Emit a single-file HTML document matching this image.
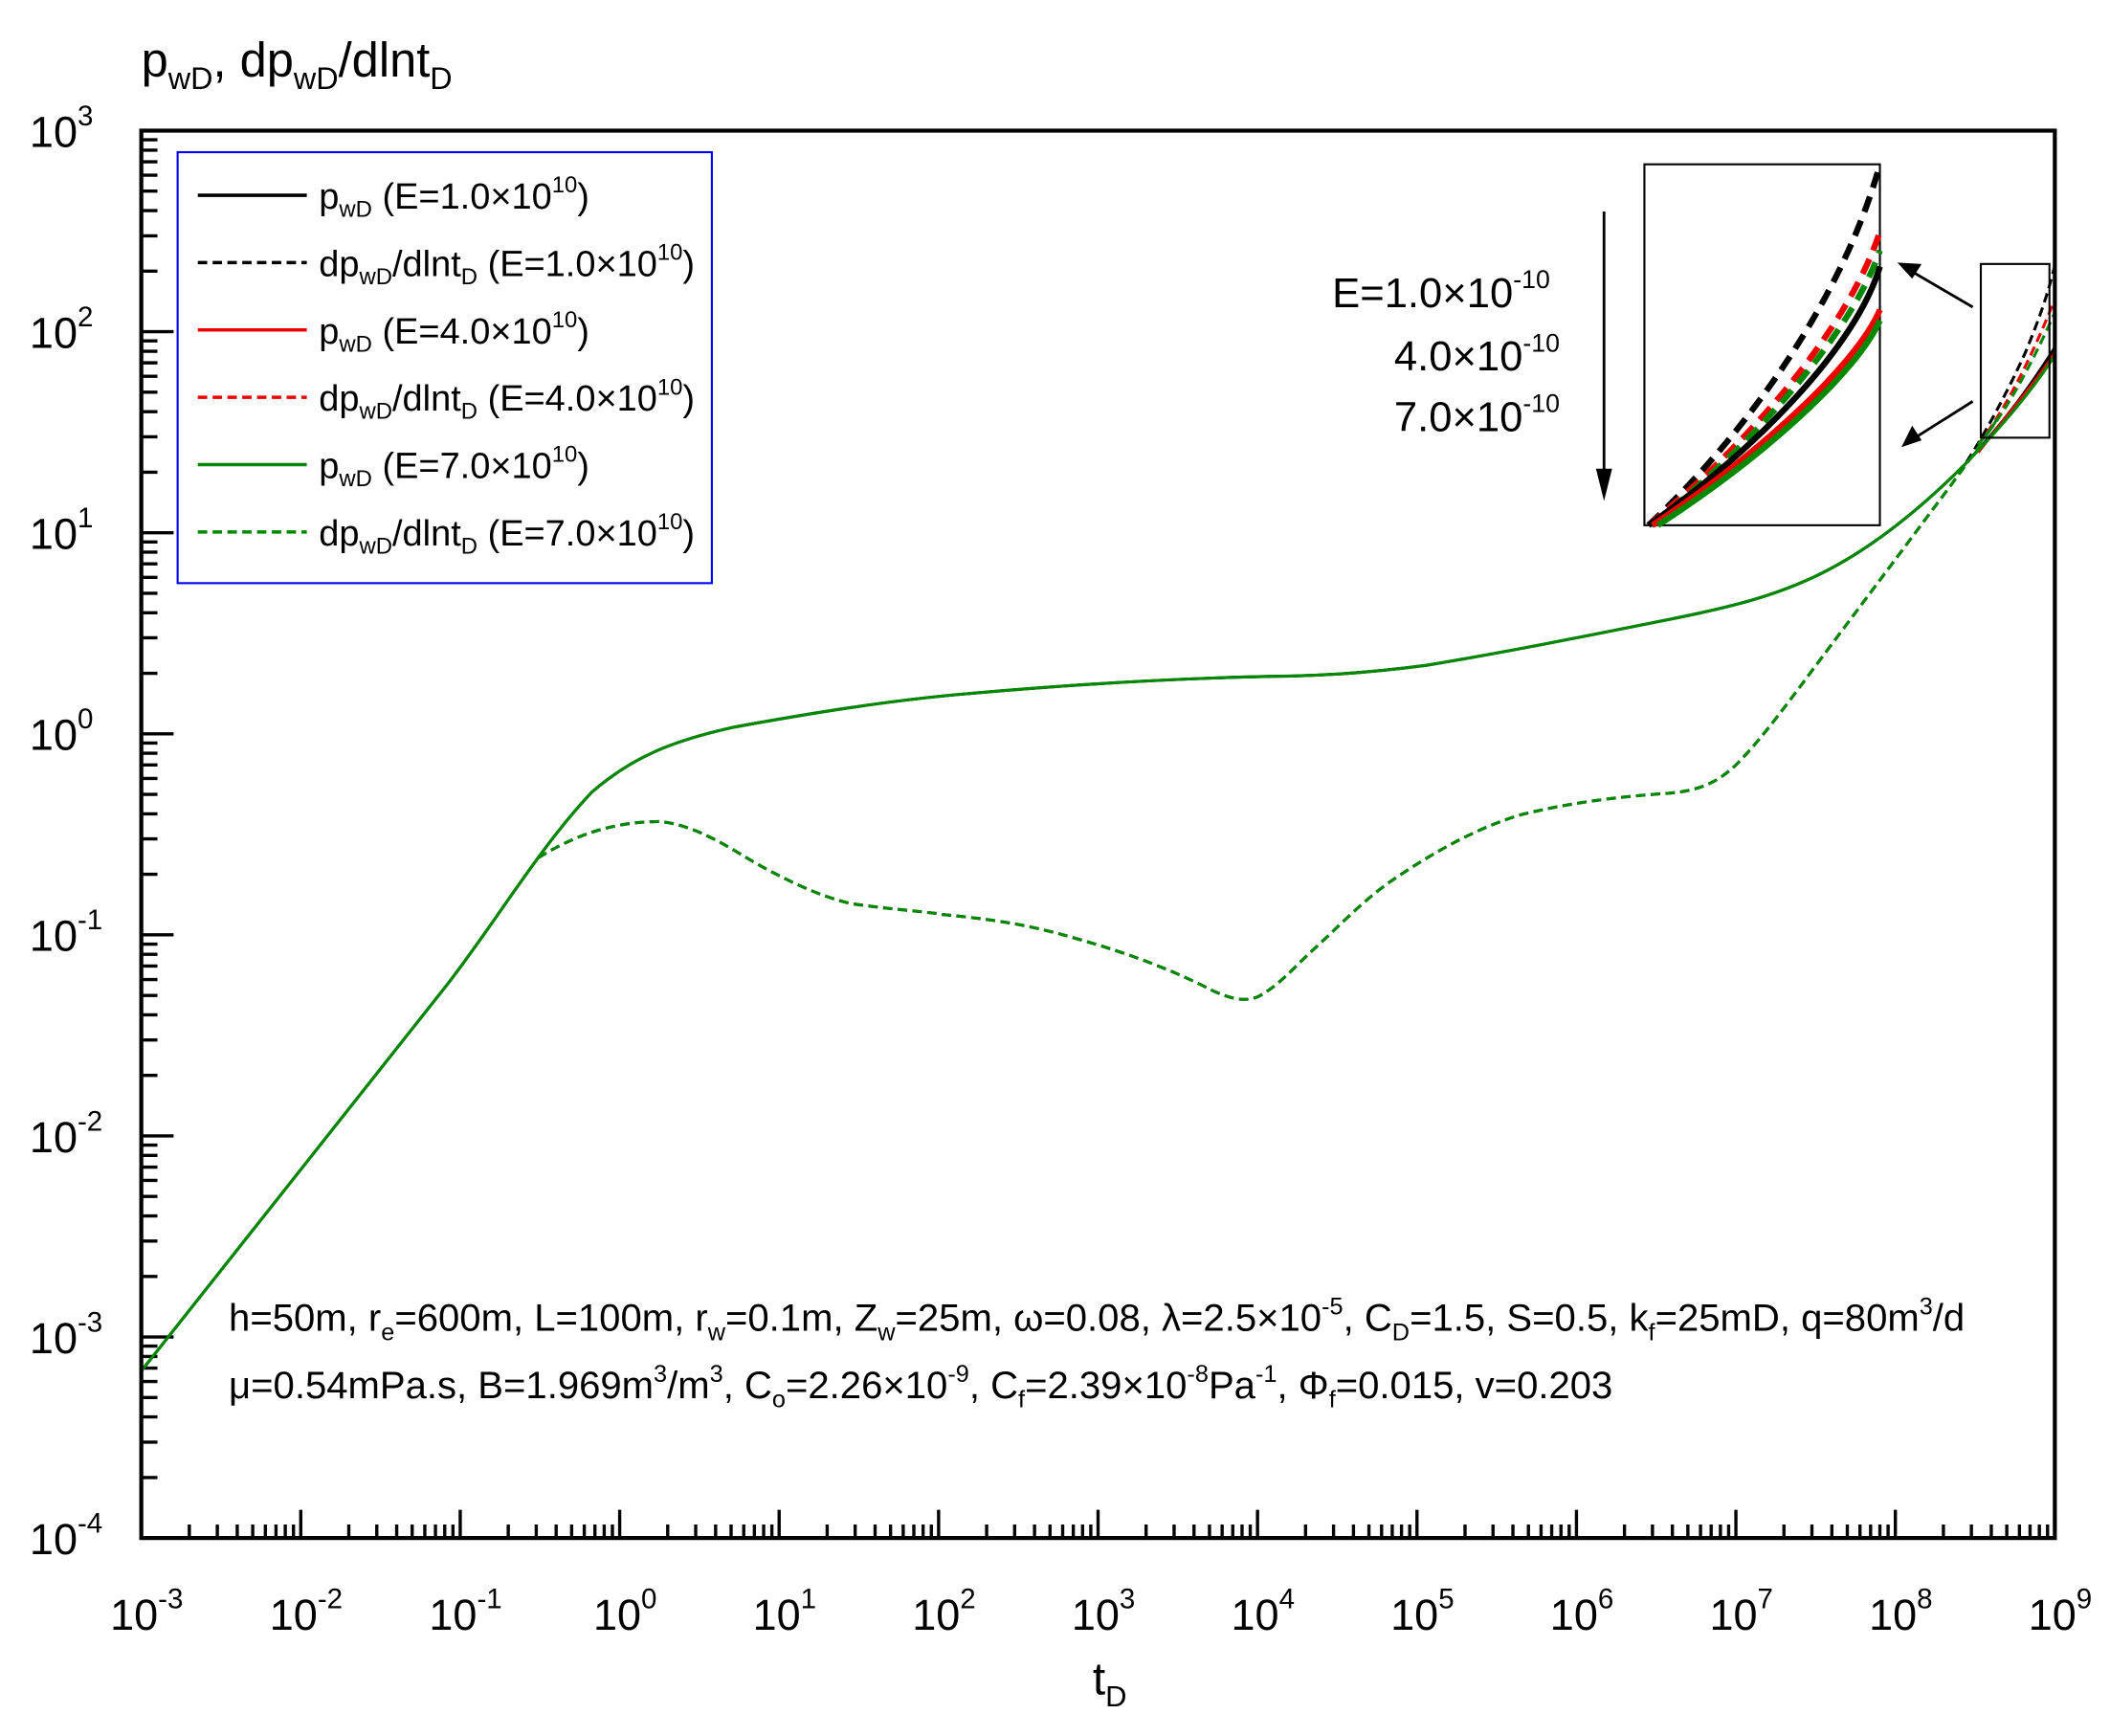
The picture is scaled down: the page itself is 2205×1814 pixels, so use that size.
<!DOCTYPE html>
<html><head><meta charset="utf-8"><style>
html,body{margin:0;padding:0;background:#fff}
svg{display:block}
text{font-family:"Liberation Sans",Arial,sans-serif;fill:#000}
</style></head><body>
<svg id="s" width="2205" height="1814" viewBox="0 0 1568 1289" preserveAspectRatio="none" xmlns="http://www.w3.org/2000/svg">
<rect width="1568" height="1289" fill="#fff"/>
<text x="105" y="57" font-size="36">p<tspan font-size="23" dy="9">wD</tspan><tspan dy="-9">, dp</tspan><tspan font-size="23" dy="9">wD</tspan><tspan dy="-9">/dlnt</tspan><tspan font-size="23" dy="9">D</tspan></text>
<g id="ticks" stroke="#000" stroke-width="2.4" fill="none"></g>
<g id="ylab" font-size="32"></g>
<g id="xlab" font-size="32" text-anchor="middle"></g>
<text x="812" y="1258" font-size="34">t<tspan font-size="22" dy="9">D</tspan></text>
<g fill="none" stroke-width="2.2">
<path d="M105,1018 L330,734 C365,690 400,630 440,588 C470,562 500,550 545,540 C600,530 660,520 720,515 C800,508 880,503 960,502 C1000,501 1030,498 1060,494 C1120,484 1180,472 1240,460 C1280,452 1310,445 1340,432 C1380,415 1420,385 1460,345 C1490,313 1510,285 1527,258" stroke="#000"/>
<path d="M400,637 C430,618 460,610 490,610 C515,612 540,628 560,640 C590,657 620,670 640,672 C670,676 690,677 700,679 C730,682 760,685 800,697 C840,708 875,722 900,735 C915,742 925,744 935,740 C950,732 960,720 975,706 C995,688 1015,666 1040,650 C1070,630 1100,614 1130,605 C1170,595 1210,591 1240,589 C1262,587 1275,582 1290,568 C1310,548 1330,520 1360,480 C1390,440 1420,400 1450,360 C1470,332 1490,295 1505,262 C1515,238 1522,218 1527,197" stroke="#000" stroke-dasharray="7,4"/>
<path d="M1470,330 C1490,305 1510,265 1527,222" stroke="#e00" stroke-dasharray="7,4"/>
<path d="M1470,330 C1490,308 1510,270 1527,232" stroke="#080" stroke-dasharray="7,4"/>
<path d="M1470,336 C1490,310 1512,285 1527,262" stroke="#e00"/>
<path d="M105,1018 L330,734 C365,690 400,630 440,588 C470,562 500,550 545,540 C600,530 660,520 720,515 C800,508 880,503 960,502 C1000,501 1030,498 1060,494 C1120,484 1180,472 1240,460 C1280,452 1310,445 1340,432 C1380,415 1420,385 1460,345 C1490,314 1510,290 1527,264" stroke="#080"/>
<path d="M400,637 C430,618 460,610 490,610 C515,612 540,628 560,640 C590,657 620,670 640,672 C670,676 690,677 700,679 C730,682 760,685 800,697 C840,708 875,722 900,735 C915,742 925,744 935,740 C950,732 960,720 975,706 C995,688 1015,666 1040,650 C1070,630 1100,614 1130,605 C1170,595 1210,591 1240,589 C1262,587 1275,582 1290,568 C1310,548 1330,520 1360,480 C1390,440 1420,400 1450,360 C1465,340 1475,325 1485,310" stroke="#080" stroke-dasharray="7,4"/>
</g>
<rect x="105" y="97" width="1422" height="1045" fill="none" stroke="#000" stroke-width="3"/>
<rect x="132" y="113" width="397" height="320" fill="#fff" stroke="#00f" stroke-width="1.5"/>
<g stroke-width="2.5">
<line x1="147" y1="145" x2="228" y2="145" stroke="#000"/>
<line x1="147" y1="195" x2="228" y2="195" stroke="#000" stroke-dasharray="7,4"/>
<line x1="147" y1="245" x2="228" y2="245" stroke="#e00"/>
<line x1="147" y1="295" x2="228" y2="295" stroke="#e00" stroke-dasharray="7,4"/>
<line x1="147" y1="345" x2="228" y2="345" stroke="#080"/>
<line x1="147" y1="395" x2="228" y2="395" stroke="#080" stroke-dasharray="7,4"/>
</g>
<g font-size="27">
<text x="237" y="155">p<tspan font-size="17" dy="6">wD</tspan><tspan dy="-6"> (E=1.0×10</tspan><tspan font-size="17" dy="-12">10</tspan><tspan dy="12">)</tspan></text>
<text x="237" y="205">dp<tspan font-size="17" dy="6">wD</tspan><tspan dy="-6">/dlnt</tspan><tspan font-size="17" dy="6">D</tspan><tspan dy="-6"> (E=1.0×10</tspan><tspan font-size="17" dy="-12">10</tspan><tspan dy="12">)</tspan></text>
<text x="237" y="255">p<tspan font-size="17" dy="6">wD</tspan><tspan dy="-6"> (E=4.0×10</tspan><tspan font-size="17" dy="-12">10</tspan><tspan dy="12">)</tspan></text>
<text x="237" y="305">dp<tspan font-size="17" dy="6">wD</tspan><tspan dy="-6">/dlnt</tspan><tspan font-size="17" dy="6">D</tspan><tspan dy="-6"> (E=4.0×10</tspan><tspan font-size="17" dy="-12">10</tspan><tspan dy="12">)</tspan></text>
<text x="237" y="355">p<tspan font-size="17" dy="6">wD</tspan><tspan dy="-6"> (E=7.0×10</tspan><tspan font-size="17" dy="-12">10</tspan><tspan dy="12">)</tspan></text>
<text x="237" y="405">dp<tspan font-size="17" dy="6">wD</tspan><tspan dy="-6">/dlnt</tspan><tspan font-size="17" dy="6">D</tspan><tspan dy="-6"> (E=7.0×10</tspan><tspan font-size="17" dy="-12">10</tspan><tspan dy="12">)</tspan></text>
</g>
<rect x="1222" y="122" width="175" height="268" fill="#fff" stroke="#000" stroke-width="1.5"/>
<g fill="none" stroke-width="4.5">
<path d="M1225,390 C1300,320 1370,220 1397,122" stroke="#000" stroke-dasharray="12,7"/>
<path d="M1225,390 C1305,325 1375,240 1397,172" stroke="#e00" stroke-dasharray="12,7"/>
<path d="M1227,390 C1307,327 1377,245 1397,186" stroke="#080" stroke-dasharray="12,7"/>
<path d="M1225,390 C1310,330 1380,255 1397,198" stroke="#000"/>
<path d="M1228,390 C1310,335 1380,270 1397,230" stroke="#e00"/>
<path d="M1232,390 C1312,338 1380,276 1397,238" stroke="#080"/>
</g>
<rect x="1472" y="196" width="51" height="129" fill="none" stroke="#000" stroke-width="1.5"/>
<g stroke="#000" stroke-width="2">
<line x1="1466" y1="228" x2="1418" y2="200"/>
<line x1="1466" y1="298" x2="1420" y2="327"/>
<line x1="1192" y1="157" x2="1192" y2="360"/>
</g>
<polygon points="1410,195 1428,196 1421,207" fill="#000"/>
<polygon points="1413,332 1421,316 1428,327" fill="#000"/>
<polygon points="1192,372 1186,348 1198,348" fill="#000"/>
<g font-size="31">
<text x="990" y="228">E=1.0×10<tspan font-size="19" dy="-14">-10</tspan></text>
<text x="1036" y="275">4.0×10<tspan font-size="19" dy="-14">-10</tspan></text>
<text x="1036" y="320">7.0×10<tspan font-size="19" dy="-14">-10</tspan></text>
</g>
<g font-size="28.5">
<text x="170" y="988">h=50m, r<tspan font-size="18" dy="7">e</tspan><tspan dy="-7">=600m, L=100m, r</tspan><tspan font-size="18" dy="7">w</tspan><tspan dy="-7">=0.1m, Z</tspan><tspan font-size="18" dy="7">w</tspan><tspan dy="-7">=25m, ω=0.08, λ=2.5×10</tspan><tspan font-size="18" dy="-12">-5</tspan><tspan dy="12">, C</tspan><tspan font-size="18" dy="7">D</tspan><tspan dy="-7">=1.5, S=0.5, k</tspan><tspan font-size="18" dy="7">f</tspan><tspan dy="-7">=25mD, q=80m</tspan><tspan font-size="18" dy="-12">3</tspan><tspan dy="12">/d</tspan></text>
<text x="170" y="1038">μ=0.54mPa.s, B=1.969m<tspan font-size="18" dy="-12">3</tspan><tspan dy="12">/m</tspan><tspan font-size="18" dy="-12">3</tspan><tspan dy="12">, C</tspan><tspan font-size="18" dy="7">o</tspan><tspan dy="-7">=2.26×10</tspan><tspan font-size="18" dy="-12">-9</tspan><tspan dy="12">, C</tspan><tspan font-size="18" dy="7">f</tspan><tspan dy="-7">=2.39×10</tspan><tspan font-size="18" dy="-12">-8</tspan><tspan dy="12">Pa</tspan><tspan font-size="18" dy="-12">-1</tspan><tspan dy="12">, Φ</tspan><tspan font-size="18" dy="7">f</tspan><tspan dy="-7">=0.015, v=0.203</tspan></text>
</g>
</svg>
<script>
(function(){
var NS="http://www.w3.org/2000/svg";
var g=document.getElementById('ticks');var d="";
var L=105,R=1527,T=97,B=1142;
var dx=(R-L)/12, dy=(B-T)/7;
for(var i=0;i<12;i++){for(var k=1;k<=10;k++){var x=L+(i+Math.log10(k))*dx;var h=(k==1||k==10)?21:10;if(k==1&&i==0)continue;d+="M"+x.toFixed(1)+","+B+"v-"+h;}}
for(var j=0;j<7;j++){for(var k=1;k<=10;k++){var y=B-(j+Math.log10(k))*dy;var w=(k==1||k==10)?24:12;if(k==1&&j==0)continue;if(k==10&&j==6)continue;d+="M"+L+","+y.toFixed(1)+"h"+w;}}
var p=document.createElementNS(NS,'path');p.setAttribute('d',d);g.appendChild(p);
var yl=document.getElementById('ylab');
for(var e=-4;e<=3;e++){var y=B-(e+4)*dy;var t=document.createElementNS(NS,'text');t.setAttribute('x','22');t.setAttribute('y',(y+12).toFixed(1));
t.innerHTML='10<tspan font-size="21" dy="-16">'+e+'</tspan>';yl.appendChild(t);}
var xl=document.getElementById('xlab');
for(var e=-3;e<=9;e++){var x=L+(e+3)*dx;var t=document.createElementNS(NS,'text');t.setAttribute('x',(x+4).toFixed(1));t.setAttribute('y','1210');
t.innerHTML='10<tspan font-size="21" dy="-16">'+e+'</tspan>';xl.appendChild(t);}
})();
</script>
</body></html>
